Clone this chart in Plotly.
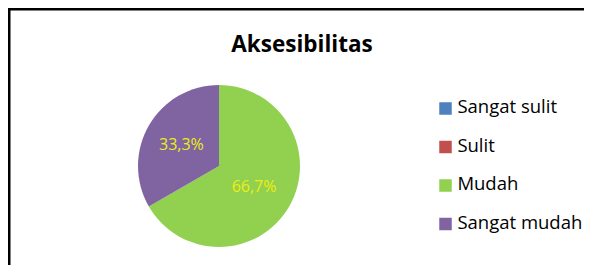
import plotly.graph_objects as go

W, H = 592, 265
OX, OY = 8, 8  # page body margin offset

categories = ["Sangat sulit", "Sulit", "Mudah", "Sangat mudah"]
values = [0, 0, 2, 1]
colors = ["#4F81BD", "#C0504D", "#92D050", "#8064A2"]
title_text = "Aksesibilitas"

def px_x(x):
    return (x - OX) / W

def px_y(y):
    return 1 - (y - OY) / H

fig = go.Figure()
fig.add_trace(go.Pie(
    labels=categories,
    values=values,
    marker=dict(colors=colors, line=dict(width=0)),
    sort=False,
    direction="clockwise",
    rotation=0,
    texttemplate="%{percent:.1%}",
    textposition="inside",
    insidetextorientation="horizontal",
    textfont=dict(family="Open Sans", size=16, color="#eeee10"),
    showlegend=False,
    domain=dict(x=[px_x(138), px_x(300)], y=[px_y(247), px_y(85)]),
    hoverinfo="label+percent",
))

# legend drawn as a marker+text scatter on hidden axes
LEG_LEFT, LEG_RIGHT = 430, 600
LEG_TOP, LEG_BOTTOM = 89.25, 243.25
fig.add_trace(go.Scatter(
    x=[15.5] * len(categories),
    y=list(range(len(categories))),
    mode="markers+text",
    text=categories,
    texttemplate="\u2009%{text}",
    textposition="middle right",
    marker=dict(symbol="square", size=12.5, color=colors),
    textfont=dict(family="Open Sans", size=18.5, color="black"),
    showlegend=False, hoverinfo="skip", cliponaxis=False,
))

fig.update_layout(
    width=W, height=H,
    margin=dict(l=0, r=0, t=0, b=0),
    paper_bgcolor="white", plot_bgcolor="rgba(0,0,0,0)",
    separators=",.",
    showlegend=False,
    xaxis=dict(visible=False, domain=[px_x(LEG_LEFT), px_x(LEG_RIGHT)],
               range=[0, LEG_RIGHT - LEG_LEFT], fixedrange=True),
    yaxis=dict(visible=False, domain=[px_y(LEG_BOTTOM), px_y(LEG_TOP)],
               range=[len(categories) - 0.5, -0.5], fixedrange=True),
    title=dict(text=f"<b>{title_text}</b>", x=px_x(302), y=px_y(44),
               xanchor="center", yanchor="middle",
               font=dict(family="Open Sans", size=22.5, color="black")),
    shapes=[dict(type="rect", xref="paper", yref="paper",
                 x0=px_x(9), x1=px_x(640), y0=px_y(9), y1=px_y(320),
                 line=dict(color="black", width=3), fillcolor="rgba(0,0,0,0)")],
)

fig.write_html("out.html")
